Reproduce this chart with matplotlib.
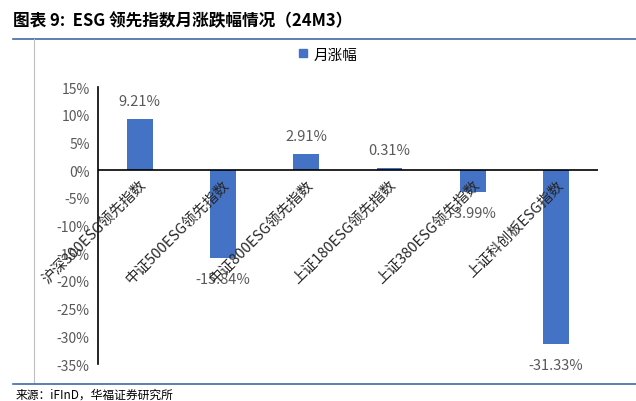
import matplotlib.pyplot as plt
from matplotlib.lines import Line2D

plt.rcParams['font.family'] = ['Noto Sans CJK SC', 'DejaVu Sans']

categories = ['沪深300ESG领先指数', '中证500ESG领先指数', '中证800ESG领先指数',
              '上证180ESG领先指数', '上证380ESG领先指数', '上证科创板ESG指数']
values = [9.21, -15.84, 2.91, 0.31, -3.99, -31.33]
yticks = [15, 10, 5, 0, -5, -10, -15, -20, -25, -30, -35]

bar_color = '#4472C4'
gray = '#595959'

fig = plt.figure(figsize=(6.36, 4.02), dpi=100)
ax = fig.add_axes([0.154, 0.092, 0.786, 0.689])

x = range(len(categories))
ax.bar(x, values, width=0.31, color=bar_color, zorder=2)
ax.axhline(0, color='black', lw=1.2, zorder=3)

for i, v in enumerate(values):
    off = 8 if v >= 0 else -10
    ax.annotate(f'{v:.2f}%', (i, v), xytext=(0, off), textcoords='offset points',
                ha='center', va='bottom' if v >= 0 else 'top', fontsize=10.5, color=gray, zorder=4)
    ax.annotate(categories[i], (i, 0), xytext=(0, -5), textcoords='offset points',
                rotation=45, rotation_mode='anchor', ha='right', va='top',
                fontsize=10.5, color='#262626', zorder=4)

ax.set_xlim(-0.5, len(categories) - 0.5)
ax.set_ylim(-35, 15)
ax.set_yticks(yticks)
ax.set_yticklabels([f'{t}%' for t in yticks], fontsize=10, color=gray)
ax.set_xticks([])
ax.tick_params(axis='y', length=0, pad=6)
for s in ['top', 'right', 'bottom']:
    ax.spines[s].set_visible(False)
ax.spines['left'].set_color('black')
ax.spines['left'].set_linewidth(1.2)

handle = Line2D([], [], marker='s', color=bar_color, lw=0, markersize=6)
fig.legend([handle], ['月涨幅'], loc='center', bbox_to_anchor=(0.515, 0.862),
           frameon=False, fontsize=10.5, handletextpad=0.3, handlelength=0.8)

fig.text(0.02, 0.948, '图表 9:  ESG 领先指数月涨跌幅情况（24M3）', fontsize=12,
         fontweight='bold', va='center', color='black')
fig.add_artist(Line2D([0.02, 1.0], [0.9, 0.9], color='#3E6AA8', lw=1.2))
fig.add_artist(Line2D([0.053, 0.053], [0.045, 0.9], color='#BFBFBF', lw=0.8))
fig.add_artist(Line2D([0.02, 1.0], [0.042, 0.042], color='#3E6AA8', lw=1.2))
fig.text(0.025, 0.018, '来源：iFInD，华福证券研究所', fontsize=8.5, va='center', color='black')

fig.savefig('out.png', dpi=100)
